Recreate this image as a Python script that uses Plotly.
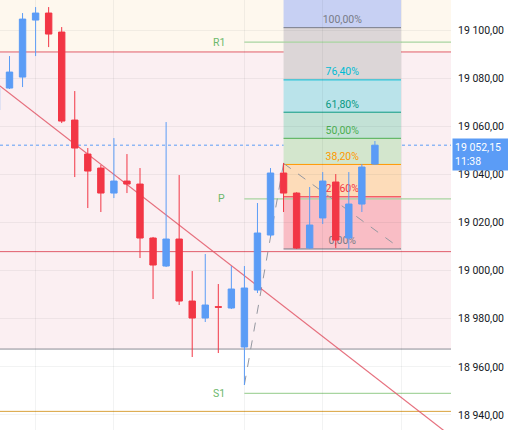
import plotly.graph_objects as go

# ---------------- data ----------------
bar_index = list(range(-1, 29))
open_ = [19066.75, 19075.90, 19080.47, 19104.16, 19107.07, 19099.17, 19062.59, 19048.46, 19042.64, 19032.25,
         19037.24, 19035.99, 19013.55, 19001.91, 19013.13, 18987.36, 18980.30, 18985.00, 18984.46, 18968.25,
         18991.94, 19014.80, 19040.57, 19032.25, 19009.39, 19021.90, 19036.83, 19013.55, 19027.68, 19044.31]
high = [19079.00, 19089.19, 19107.07, 19109.56, 19109.56, 19101.25, 19074.65, 19050.96, 19043.89, 19055.11,
        19048.46, 19042.64, 19014.00, 19061.76, 19039.73, 18999.83, 19006.90, 18994.43, 19001.91, 19001.91,
        19028.10, 19042.64, 19044.72, 19032.60, 19034.75, 19040.98, 19040.15, 19040.98, 19044.31, 19053.87]
low = [19064.50, 19075.50, 19076.31, 19089.19, 19092.93, 19061.35, 19038.90, 19026.02, 19024.36, 19030.17,
       19032.25, 19005.24, 18988.20, 19001.50, 18985.70, 18964.09, 18978.64, 18965.75, 18984.04, 18952.45,
       18990.69, 19013.97, 19024.36, 19008.98, 19008.98, 19019.37, 19009.39, 19008.98, 19024.36, 19044.00]
close = [19075.90, 19082.54, 19104.57, 19107.07, 19098.34, 19062.18, 19050.96, 19041.40, 19032.25, 19037.24,
         19035.99, 19013.55, 19002.33, 19013.13, 18987.36, 18980.30, 18985.70, 18984.80, 18992.35, 18992.77,
         19015.63, 19040.57, 19032.25, 19009.39, 19018.95, 19037.24, 19012.70, 19027.68, 19043.06, 19052.15]

last_price = 19052.15
last_price_text = "19 052,15"
last_time_text = "11:38"

tick_vals = [18940, 18960, 18980, 19000, 19020, 19040, 19060, 19080, 19100]
tick_text = ["18 940,00", "18 960,00", "18 980,00", "19 000,00", "19 020,00",
             "19 040,00", "19 060,00", "19 080,00", "19 100,00"]
time_grid = [2, 8, 18, 24, 30]

# trend-based fib extension anchor points (bar index, price)
fib_x = [18, 21, 30]
fib_y = [18952.6, 19044.6, 19009.0]
fib_ratios = [0.0, 0.236, 0.382, 0.5, 0.618, 0.764, 1.0, 1.618]
fib_labels = ["0,00%", "23,60%", "38,20%", "50,00%", "61,80%", "76,40%", "100,00%", ""]

# pivot levels
pivot_names = ["R1", "P", "S1"]
pivot_values = [19095.0, 19029.8, 18949.0]
pivot_start = 18

# other horizontal levels
red_levels = [19090.9, 19007.9]
zone_top = 19090.9
zone_bottom = 18967.4
orange_level = 18941.5

# trend line (bar index, price)
trend_x = [-1, 34]
trend_y = [19077.9, 18930.5]

x_range = [-0.728, 33.83]
y_range = [18933.75, 19112.5]

# ---------------- styles ----------------
BLUE = "#5b9cf6"
RED = "#f23645"
fib_line_colors = ["#787b86", "#f23645", "#ff9800", "#4caf50", "#089981", "#00bcd4", "#787b86", "#2962ff"]
fib_fill_colors = ["#f9bdc5", "#fddcb9", "#d3e6cd", "#c3e2d6", "#bae3ea", "#dcd6d7", "#c7d0f3"]
FONT = "Roboto, 'Liberation Sans', sans-serif"

fig = go.Figure()

fig.add_trace(go.Candlestick(
    x=bar_index, open=open_, high=high, low=low, close=close,
    increasing=dict(line=dict(color=BLUE, width=1), fillcolor=BLUE),
    decreasing=dict(line=dict(color=RED, width=1), fillcolor=RED),
    whiskerwidth=0, showlegend=False, hoverinfo="skip"))

shapes = []
# background zones
shapes.append(dict(type="rect", xref="x domain", yref="y", x0=0, x1=1, y0=zone_top, y1=y_range[1],
                   fillcolor="#fef8ee", line_width=0, layer="below"))
shapes.append(dict(type="rect", xref="x domain", yref="y", x0=0, x1=1, y0=zone_bottom, y1=zone_top,
                   fillcolor="#fbeff2", line_width=0, layer="below"))

# fib bands
span = fib_y[1] - fib_y[0]
fib_prices = [fib_y[2] + r * span for r in fib_ratios]
for i in range(1, len(fib_prices)):
    shapes.append(dict(type="rect", xref="x", yref="y", x0=fib_x[1], x1=fib_x[2],
                       y0=fib_prices[i - 1], y1=fib_prices[i],
                       fillcolor=fib_fill_colors[i - 1], line_width=0, layer="below"))

# full-width levels
shapes.append(dict(type="line", xref="x domain", yref="y", x0=0, x1=1, y0=zone_bottom, y1=zone_bottom,
                   line=dict(color="#8a8d96", width=1), layer="below"))
for lv in red_levels:
    shapes.append(dict(type="line", xref="x domain", yref="y", x0=0, x1=1, y0=lv, y1=lv,
                       line=dict(color="#e05d6b", width=1), layer="below"))
shapes.append(dict(type="line", xref="x domain", yref="y", x0=0, x1=1, y0=orange_level, y1=orange_level,
                   line=dict(color="#d9a23a", width=1), layer="below"))

# pivot lines
for pv in pivot_values:
    shapes.append(dict(type="line", xref="x", yref="y", x0=pivot_start, x1=x_range[1], y0=pv, y1=pv,
                       line=dict(color="#a8d5a0", width=1.2), layer="below"))

# fib level lines with labels
for i, r in enumerate(fib_ratios[:-1]):
    p = fib_prices[i]
    shapes.append(dict(type="line", xref="x", yref="y", x0=fib_x[1], x1=fib_x[2], y0=p, y1=p,
                       line=dict(color=fib_line_colors[i], width=1), layer="below",
                       label=dict(text=fib_labels[i], textposition="middle", yanchor="bottom", padding=2,
                                  font=dict(color=fib_line_colors[i], size=10.5, family=FONT))))

# dashed fib legs
shapes.append(dict(type="line", xref="x", yref="y", x0=fib_x[0], y0=fib_y[0], x1=fib_x[1], y1=fib_y[1],
                   line=dict(color="#9598a1", width=1, dash="dash"), layer="below"))
shapes.append(dict(type="line", xref="x", yref="y", x0=fib_x[1], y0=fib_y[1], x1=fib_x[2], y1=fib_y[2],
                   line=dict(color="#9598a1", width=1, dash="dash"), layer="below"))

# current price dotted line
shapes.append(dict(type="line", xref="x domain", yref="y", x0=0, x1=1, y0=last_price, y1=last_price,
                   line=dict(color=BLUE, width=1, dash="dot"), layer="below"))

# trend line
shapes.append(dict(type="line", xref="x", yref="y", x0=trend_x[0], y0=trend_y[0], x1=trend_x[1], y1=trend_y[1],
                   line=dict(color="rgba(226,88,104,0.85)", width=1.2), layer="below"))

annotations = []
for name, pv in zip(pivot_names, pivot_values):
    annotations.append(dict(x=pivot_start, y=pv, xref="x", yref="y", text=name, showarrow=False,
                            xanchor="right", yanchor="middle", xshift=-17,
                            font=dict(color="#6cb86c", size=10.5, family=FONT)))

annotations.append(dict(x=1, y=last_price, xref="paper", yref="y",
                        text=last_price_text + "<br>" + last_time_text, showarrow=False,
                        xanchor="left", yanchor="top", xshift=1, yshift=7, align="left",
                        bgcolor=BLUE, borderpad=2, width=51,
                        font=dict(color="white", size=10.5, family=FONT)))

fig.update_layout(
    width=508, height=430,
    margin=dict(l=0, r=57, t=0, b=0),
    paper_bgcolor="white", plot_bgcolor="white",
    shapes=shapes, annotations=annotations,
    showlegend=False,
    xaxis=dict(range=x_range, rangeslider=dict(visible=False), showticklabels=False,
               tickvals=time_grid, showgrid=True, gridcolor="rgba(42,46,57,0.06)",
               zeroline=False, showline=False, ticks=""),
    yaxis=dict(range=y_range, side="right", tickvals=tick_vals, ticktext=tick_text,
               showgrid=True, gridcolor="rgba(42,46,57,0.06)", zeroline=False, showline=False,
               ticks="", ticklabelstandoff=6,
               tickfont=dict(size=10.5, color="#131722", family=FONT)),
)

fig.write_html("out.html", config={"displayModeBar": False},
               post_script="document.body.style.margin='0';document.body.style.overflow='hidden';")
